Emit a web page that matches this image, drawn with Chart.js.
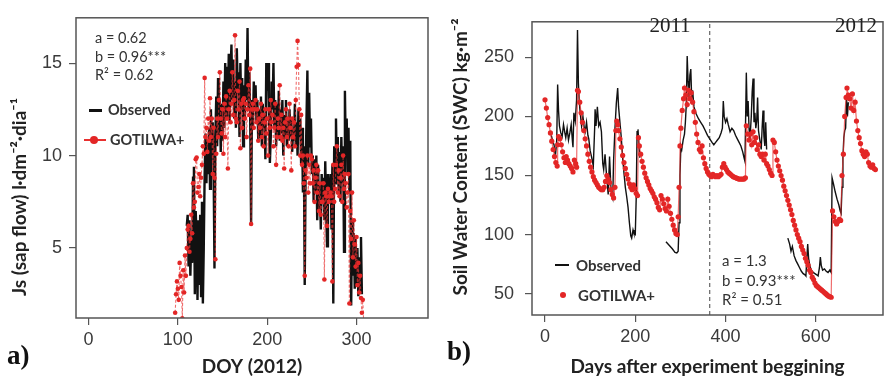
<!DOCTYPE html>
<html>
<head>
<meta charset="utf-8">
<script src="https://cdn.jsdelivr.net/npm/chart.js@4.4.1/dist/chart.umd.min.js"></script>
<style>
    body { margin: 0; background: #fff; }
    #wrap { position: relative; width: 887px; height: 380px; overflow: hidden; font-family: Lato, "Open Sans", sans-serif; color: #333; }
    canvas { position: absolute; top: 0; }
    .txt { position: absolute; white-space: nowrap; line-height: 1; transform: translateY(-50%); }
    .ytitle { position: absolute; white-space: nowrap; font-weight: bold; font-size: 19px; color: #222; transform: translate(-50%, -50%) rotate(-90deg); }
    .panel { position: absolute; font-family: "Liberation Serif", serif; font-weight: bold; font-size: 27px; color: #111; transform: translateY(-50%); }
    .year { position: absolute; font-family: "Liberation Serif", serif; font-size: 21px; color: #222; transform: translate(-50%, -50%); }
    .lg { font-weight: bold; }
</style>
</head>
<body>
<div id="wrap">
    <canvas id="sapChart" width="440" height="380" style="left:0"></canvas>
    <canvas id="swcChart" width="447" height="380" style="left:440px"></canvas>

    <!-- panel a -->
    <div class="ytitle" style="left:18px; top:197px">Js (sap flow) l·dm⁻²·dia⁻¹</div>
    <div class="txt" style="left:95px; top:38px; font-size:14.5px">a = 0.62</div>
    <div class="txt" style="left:95px; top:57px; font-size:14.5px">b = 0.96***</div>
    <div class="txt" style="left:95px; top:75px; font-size:14.5px">R² = 0.62</div>
    <div style="position:absolute; left:89px; top:109px; width:13px; height:3px; background:#111"></div>
    <div class="txt lg" style="left:108px; top:110px; font-size:14.5px">Observed</div>
    <div style="position:absolute; left:84px; top:139px; width:22px; height:2px; background:#e8302f"></div>
    <div style="position:absolute; left:90px; top:136px; width:8px; height:8px; border-radius:50%; background:#e32626"></div>
    <div class="txt lg" style="left:110px; top:140px; font-size:14.5px">GOTILWA+</div>
    <div class="panel" style="left:7px; top:355px">a)</div>

    <!-- panel b -->
    <div class="ytitle" style="left:459px; top:157px">Soil Water Content (SWC) kg·m⁻²</div>
    <div class="year" style="left:670px; top:25px">2011</div>
    <div class="year" style="left:856px; top:25px">2012</div>
    <div class="txt" style="left:722px; top:260px; font-size:15px">a = 1.3</div>
    <div class="txt" style="left:722px; top:280px; font-size:15px">b = 0.93***</div>
    <div class="txt" style="left:722px; top:299px; font-size:15px">R² = 0.51</div>
    <div style="position:absolute; left:555px; top:264px; width:14px; height:2px; background:#111"></div>
    <div class="txt lg" style="left:576px; top:265px; font-size:15px">Observed</div>
    <div style="position:absolute; left:560px; top:292px; width:6px; height:6px; border-radius:50%; background:#e32626"></div>
    <div class="txt lg" style="left:578px; top:295px; font-size:15px">GOTILWA+</div>
    <div class="panel" style="left:447px; top:351px">b)</div>
</div>

<script>
// Panel a: sap flow, one value per day of year
const sapObsStart = 110;
const sapObs = [
    6.2, 6.8, 4.0, 6.5, 3.5, 5.5, 4.2, 8.8, 9.4, 2.5,
    7.0, 5.5, 2.2, 6.5, 3.0, 6.8, 2.4, 7.5, 2.0, 5.0,
    9.0, 11.2, 8.5, 10.8, 9.0, 11.5, 8.2, 12.5, 10.0, 11.8,
    9.5, 3.9, 11.0, 13.2, 10.5, 14.2, 11.0, 13.0, 10.2, 12.8,
    10.8, 14.0, 11.5, 15.0, 12.0, 14.8, 12.5, 15.5, 11.8, 14.5,
    16.0, 13.0, 15.2, 12.0, 14.0, 11.5, 15.8, 13.5, 14.5, 11.0,
    15.0, 12.5, 14.2, 10.5, 13.8, 12.0, 15.2, 13.0, 16.9, 12.5,
    14.5, 12.0, 6.3, 13.0, 11.5, 14.0, 12.5, 13.8, 11.8, 13.0,
    10.8, 12.5, 11.0, 13.2, 10.5, 12.8, 11.5, 12.2, 9.8, 15.0,
    13.5, 15.0, 12.0, 9.6, 11.0, 14.0, 12.5, 15.0, 11.5, 13.0,
    10.5, 12.8, 11.0, 13.5, 10.8, 12.5, 11.2, 13.0, 10.0, 12.2,
    11.0, 13.0, 10.5, 12.0, 10.8, 12.5, 11.0, 12.0, 10.2, 11.5,
    10.8, 12.8, 10.5, 11.8, 10.0, 12.5, 11.0, 12.0, 9.5, 11.5,
    8.0, 10.5, 3.0, 9.0, 12.0, 14.6, 9.5, 13.4, 10.5, 12.0,
    9.0, 10.0, 7.5, 9.8, 8.0, 10.0, 6.5, 9.5, 7.0, 8.5,
    6.0, 9.0, 7.5, 8.8, 6.5, 9.7, 7.0, 5.1, 9.0, 7.5,
    7.5, 9.0, 6.0, 9.5, 2.0, 10.5, 8.5, 12.0, 9.0, 11.0,
    8.0, 10.2, 7.5, 11.0, 8.5, 10.5, 4.8, 13.5, 10.0, 12.0,
    9.0, 11.5, 8.0, 10.8, 1.9, 6.5, 3.5, 5.8, 2.8, 5.5,
    3.0, 5.0, 2.4, 4.5, 2.6, 5.6, 2.5,
];
const sapSimStart = 97;
const sapSim = [
    1.5, 2.5, 3.2, 2.8, 2.2, 4.2, 3.5, 2.9, 1.2, 3.8,
    2.6, 4.6, 3.5, 5.0, 6.0, 6.2, 4.8, 5.5, 6.8, 5.8,
    8.5, 7.2, 7.5, 9.8, 9.9, 8.0, 8.3, 9.0, 7.8, 8.8,
    9.5, 10.5, 10.1, 14.2, 11.0, 11.5, 10.2, 12.0, 10.8, 13.1,
    11.0, 12.0, 9.0, 11.5, 8.8, 4.4, 10.1, 12.0, 11.0, 13.0,
    14.5, 12.0, 11.2, 12.5, 10.1, 12.8, 11.0, 13.2, 12.0, 9.3,
    12.5, 13.5, 11.8, 12.8, 14.5, 12.2, 13.0, 16.5, 12.0, 11.8,
    13.5, 12.5, 14.0, 10.4, 12.8, 11.5, 13.0, 13.1, 12.0, 12.8,
    11.0, 12.5, 13.8, 12.2, 14.7, 6.3, 12.5, 12.8, 11.5, 12.5,
    13.0, 11.8, 12.5, 10.8, 12.0, 11.5, 12.8, 11.0, 12.2, 10.5,
    11.8, 12.5, 11.2, 12.0, 10.0, 12.5, 11.5, 13.0, 11.8, 12.2,
    10.5, 11.5, 12.8, 9.5, 11.0, 12.0, 11.5, 13.8, 11.0, 12.2,
    10.8, 11.5, 9.3, 11.8, 12.5, 11.0, 12.0, 10.5, 12.8, 11.5,
    9.2, 12.0, 11.0, 11.8, 10.5, 13.0, 14.8, 16.2, 14.9, 12.5,
    10.0, 12.2, 9.5, 10.0, 8.5, 3.5, 9.2, 8.8, 10.0, 8.0,
    9.5, 8.5, 10.0, 9.8, 8.5, 9.2, 7.5, 8.8, 9.5, 8.0,
    9.2, 7.0, 8.5, 6.8, 7.5, 7.5, 8.5, 3.3, 8.0, 7.8,
    6.2, 8.2, 7.5, 7.8, 8.0, 7.8, 3.2, 9.5, 7.5, 8.2,
    9.5, 10.5, 8.0, 9.2, 7.8, 8.8, 9.5, 7.5, 10.0, 8.2,
    9.0, 8.5, 7.2, 8.0, 9.0, 2.0, 7.0, 5.5, 8.0, 4.5,
    6.5, 5.2, 4.0, 5.6, 3.0, 4.2, 2.6, 3.5, 2.3, 1.5,
    2.2, 1.0,
];
const sapXTicks = [0, 100, 200, 300];
const sapYTicks = [5, 10, 15];

// Panel b: soil water content, [day, value]; null = no measurement
const swcObs = [
    [14, 184], [17, 179], [20, 176], [23, 166], [26, 180], [28, 227], [30, 205], [32, 192], [35, 186], [38, 183],
    [41, 193], [44, 186], [46, 182], [49, 190], [52, 180], [55, 186], [58, 193], [61, 178], [62, 174], [64, 203],
    [67, 196], [70, 214], [72, 273], [74, 228], [76, 212], [78, 203], [81, 192], [84, 200], [87, 190], [89, 187],
    [92, 195], [95, 184], [97, 181], [100, 171], [103, 166], [107, 158], [110, 190], [111, 206], [113, 192], [116, 208],
    [119, 192], [122, 195], [125, 187], [128, 160], [130, 155], [133, 168], [136, 152], [140, 134], [143, 166], [146, 140],
    [148, 134], [150, 131], [152, 163], [155, 190], [158, 211], [161, 224], [163, 208], [166, 195], [169, 182], [172, 165],
    [175, 152], [178, 140], [181, 132], [184, 123], [187, 110], [190, 99], [192, 97], [195, 104], [197, 101], [200, 100],
    [202, 130], [204, 187], [206, 189], [208, 176], [210, 165], [211, null],
    [268, 94], [275, 91], [282, 88], [288, 85], [292, 84.5], [295, 86], [297, 110], [299, 150], [301, 175], [303, 172],
    [306, 180], [309, 185], [311, 195], [313, 210], [315, 251], [317, 230], [319, 216], [321, 235], [323, 240], [325, 215],
    [327, 222], [330, 208], [335, 202], [340, 198], [345, 195], [350, 192], [355, 188], [360, 184], [365, 181], [370, 178],
    [374, 176], [378, 178], [382, 180], [386, 182], [390, 186], [393, 190], [395, 213], [397, 200], [400, 195], [403, 198],
    [406, 193], [410, 187], [414, 190], [418, 188], [422, 184], [426, 181], [430, 178], [434, 175], [438, 170], [441, 165],
    [443, 162], [446, 237], [448, 200], [450, 213], [452, 190], [454, 180], [457, 200], [459, 221], [461, 232], [463, 195],
    [465, 203], [467, 190], [469, 196], [471, 216], [473, 188], [476, 180], [479, 172], [481, 190], [483, 205], [485, 183],
    [487, 175], [489, 195], [491, 172], [492, null],
    [538, 97], [542, 92], [545, 86], [548, 90], [552, 82], [556, 78], [560, 75], [564, 72], [568, 69], [572, 67],
    [576, 66], [578, 65], [580, 80], [582, 92], [584, 80], [587, 73], [590, 70], [594, 68], [598, 67], [602, 66],
    [605, 65], [608, 72], [610, 81], [612, 74], [615, 70], [619, 71], [623, 69], [627, 68], [631, 70], [634, 68],
    [636, 148], [639, 143], [643, 136], [647, 130], [651, 125], [654, 120], [656, 118], [658, 140], [660, 165], [662, 182],
    [664, 188], [666, 190], [668, 216], [670, 200], [672, 212],
];
const swcSim = [
    [0, 214], [3, 207], [6, 199], [9, 193], [12, 186], [15, 179], [18, 172], [21, 166], [24, 161], [27, 158],
    [28, 176], [30, 183], [33, 181], [36, 176], [39, 170], [42, 165], [45, 161], [47, 166], [50, 163], [53, 160],
    [56, 158], [59, 156], [62, 153], [65, 163], [68, 160], [70, 157], [72, 222], [74, 221], [77, 212], [80, 203],
    [83, 195], [86, 188], [89, 181], [92, 175], [95, 168], [98, 162], [101, 157], [104, 153], [107, 149], [110, 146],
    [113, 144], [116, 142], [119, 140], [122, 139], [125, 138], [128, 138], [131, 140], [134, 145], [137, 150], [140, 147],
    [143, 144], [146, 138], [149, 134], [152, 131], [155, 140], [157, 188], [159, 196], [161, 193], [163, 188], [166, 181],
    [169, 174], [172, 167], [175, 161], [178, 156], [181, 151], [184, 147], [187, 143], [190, 140], [193, 138], [196, 142],
    [199, 139], [202, 135], [205, 133], [207, 182], [209, 175], [212, 168], [215, 162], [218, 157], [221, 152], [224, 148],
    [227, 145], [230, 142], [233, 139], [236, 137], [239, 135], [242, 132], [245, 130], [248, 127], [251, 123], [254, 121],
    [257, 133], [260, 130], [263, 126], [266, 122], [269, 120], [272, 130], [275, 124], [278, 118], [281, 113], [284, 108],
    [287, 104], [290, 101], [293, 100], [295, 115], [297, 140], [299, 175], [301, 190], [304, 205], [307, 215], [309, 224],
    [312, 218], [315, 210], [318, 222], [321, 215], [324, 220], [327, 212], [330, 204], [333, 195], [336, 185], [339, 178],
    [342, 172], [345, 170], [348, 175], [351, 165], [354, 160], [357, 156], [360, 153], [363, 151], [366, 150], [369, 149],
    [372, 151], [375, 150], [378, 149], [381, 150], [384, 149], [387, 150], [390, 151], [393, 157], [396, 160], [399, 157],
    [402, 155], [405, 153], [408, 152], [411, 151], [414, 150], [417, 149], [420, 148.5], [423, 148], [426, 147.5], [429, 147],
    [432, 147], [435, 147], [438, 147], [441, 147], [444, 148], [446, 192], [449, 185], [452, 180], [455, 185], [458, 176],
    [461, 187], [464, 178], [467, 182], [470, 172], [473, 176], [476, 168], [479, 166], [482, 168], [485, 163], [488, 168],
    [491, 160], [494, 158], [497, 155], [500, 152], [503, 150], [505, 180], [508, 178], [511, 170], [514, 163], [517, 158],
    [520, 154], [523, 150], [526, 146], [529, 141], [532, 137], [535, 133], [538, 129], [541, 125], [544, 121], [547, 117],
    [550, 112], [553, 108], [556, 104], [559, 100], [562, 97], [565, 94], [568, 90], [571, 87], [574, 84], [577, 80],
    [580, 77], [583, 74], [586, 70], [589, 68], [592, 64], [595, 62], [598, 59], [601, 57], [604, 56], [607, 55],
    [610, 54], [613, 53], [616, 52], [619, 51], [622, 50], [625, 49], [628, 48], [631, 47.5], [634, 47], [637, 120],
    [640, 115], [643, 111], [646, 109], [649, 111], [652, 113], [655, 112], [658, 150], [661, 168], [664, 200], [667, 216],
    [669, 224], [672, 218], [675, 215], [678, 207], [681, 219], [684, 205], [687, 212], [690, 196], [693, 188], [696, 182],
    [699, 177], [702, 171], [705, 168], [708, 166], [711, 170], [714, 168], [717, 161], [720, 158], [723, 157], [726, 159],
    [729, 156], [732, 155],
];
const swcXTicks = [0, 200, 400, 600];
const swcYTicks = [50, 100, 150, 200, 250];
const yearBreakDay = 365;

const RED = "#e32626";
const tickFont = { family: "Liberation Sans", size: 18 };

// рамка вокруг области графика, как в R
const boxPlugin = {
    id: "box",
    afterDraw(chart) {
        const { ctx, chartArea: a } = chart;
        ctx.save();
        ctx.strokeStyle = "#555";
        ctx.lineWidth = 1.5;
        ctx.strokeRect(a.left, a.top, a.right - a.left, a.bottom - a.top);
        ctx.restore();
    },
};

function axis(min, max, ticks, size, extra) {
    const horizontal = extra.horizontal;
    return Object.assign({
        type: "linear",
        min: min,
        max: max,
        afterBuildTicks: (s) => { s.ticks = ticks.map((v) => ({ value: v })); },
        afterFit: (s) => { if (horizontal) s.height = size; else s.width = size; },
        grid: { drawOnChartArea: false, tickLength: 7, color: "#555", lineWidth: 1.2 },
        border: { display: false },
        ticks: { font: tickFont, color: "#3a3a3a", padding: extra.padding, maxRotation: 0, autoSkip: false },
    }, extra.more || {});
}

const xTitle = (text, pad) => ({
    display: true,
    text: text,
    color: "#222",
    font: { family: "Lato", size: 19, weight: "bold" },
    padding: { top: 0, bottom: pad },
});

new Chart(document.getElementById("sapChart"), {
    type: "line",
    data: {
        datasets: [
            {
                label: "GOTILWA+",
                data: sapSim.map((v, i) => ({ x: sapSimStart + i, y: v })),
                borderColor: "rgba(232, 48, 48, 0.7)",
                borderWidth: 1.1,
                borderDash: [3, 2],
                pointRadius: 2.3,
                pointBorderWidth: 0,
                pointBackgroundColor: RED,
                order: 0,
            },
            {
                label: "Observed",
                data: sapObs.map((v, i) => ({ x: sapObsStart + i, y: v })),
                borderColor: "#111",
                borderWidth: 2.4,
                pointRadius: 0,
                order: 1,
            },
        ],
    },
    options: {
        responsive: false,
        animation: false,
        layout: { padding: { top: 13, right: 12, left: 0, bottom: 0 } },
        plugins: { legend: { display: false }, tooltip: { enabled: false } },
        scales: {
            x: axis(-14, 380, sapXTicks, 62, { horizontal: true, padding: 4, more: { title: xTitle("DOY (2012)", 2) } }),
            y: axis(1.22, 17.45, sapYTicks, 76, { padding: 7 }),
        },
    },
    plugins: [boxPlugin],
});

new Chart(document.getElementById("swcChart"), {
    type: "line",
    data: {
        datasets: [
            {
                label: "GOTILWA+",
                data: swcSim.map((p) => ({ x: p[0], y: p[1] })),
                borderColor: "rgba(232, 48, 48, 0.7)",
                borderWidth: 1.2,
                pointRadius: 2.6,
                pointBorderWidth: 0,
                pointBackgroundColor: RED,
                order: 0,
            },
            {
                label: "Observed",
                data: swcObs.map((p) => ({ x: p[0], y: p[1] })),
                borderColor: "#111",
                borderWidth: 1.4,
                pointRadius: 0,
                spanGaps: false,
                order: 1,
            },
            {
                label: "year",
                data: [{ x: yearBreakDay, y: 32 }, { x: yearBreakDay, y: 280 }],
                borderColor: "#444",
                borderWidth: 1,
                borderDash: [4, 3],
                pointRadius: 0,
                order: 2,
            },
        ],
    },
    options: {
        responsive: false,
        animation: false,
        layout: { padding: { top: 3, right: 1, left: 0, bottom: 0 } },
        plugins: { legend: { display: false }, tooltip: { enabled: false } },
        scales: {
            x: axis(-28.8, 748.8, swcXTicks, 65, { horizontal: true, padding: 4, more: { title: xTitle("Days after experiment beggining", 2) } }),
            y: axis(32, 280, swcYTicks, 92, { padding: 11 }),
        },
    },
    plugins: [boxPlugin],
});
</script>
</body>
</html>
